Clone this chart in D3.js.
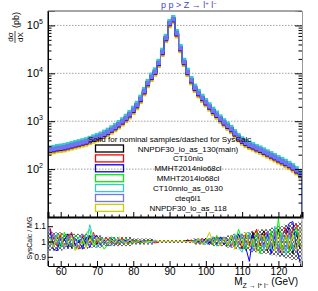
<!DOCTYPE html>
<html>
<head>
<meta charset="utf-8">
<script src="https://cdn.jsdelivr.net/npm/d3@7"></script>
<style>
  body { margin: 0; background: #fff; }
  svg { display: block; font-family: "Liberation Sans", Arial, sans-serif; }
</style>
</head>
<body>
<script>
// mass bins, 1 GeV wide, centres 57..126
const massBins = d3.range(57, 127);

const pdfNames = ['NNPDF30_lo_as_130(main)', 'CT10nlo', 'MMHT2014nlo68cl', 'MMHT2014lo68cl',
                  'CT10nnlo_as_0130', 'cteq6l1', 'NNPDF30_lo_as_118'];

// dsigma/dX (pb) per bin
const xsecNNPDF130 = [251,257,269,275,282,295,309,324,339,355, 372,398,427,457,490,537,589,661,741,851,
  977,1150,1380,1700,2140,2880,4170,6170,8320,10700, 16200,27500,53700,110000,133000,67600,33100,17000,10500,7080,
  4900,3800,3020,2450,2000,1620,1350,1120,933,794, 676,550,457,389,347,316,295,269,251,229,
  209,191,174,158,145,132,120,107,93,79];
const xsecCT10nlo = [241,247,258,264,271,283,297,311,325,341, 357,382,410,439,470,516,565,635,711,817,
  938,1100,1320,1630,2050,2760,4000,5920,7990,10300, 15600,26400,51600,106000,128000,64900,31800,16300,10100,6800,
  4700,3650,2900,2350,1920,1560,1300,1080,896,762, 649,528,439,373,333,303,283,258,241,220,
  201,183,167,152,139,127,115,103,89,76];
const xsecMMHTnlo = [246,252,264,270,276,289,303,318,332,348, 365,390,418,448,480,526,577,648,726,834,
  957,1130,1350,1670,2100,2820,4090,6050,8150,10500, 15900,27000,52600,108000,130000,66200,32400,16700,10300,6940,
  4800,3720,2960,2400,1960,1590,1320,1100,914,778, 662,539,448,381,340,310,289,264,246,224,
  205,187,171,155,142,129,118,105,91,77];
const xsecMMHTlo = [261,267,280,286,293,307,321,337,353,369, 387,414,444,475,510,558,613,687,771,885,
  1020,1200,1440,1770,2230,3000,4340,6420,8650,11100, 16800,28600,55800,114000,138000,70300,34400,17700,10900,7360,
  5100,3950,3140,2550,2080,1680,1400,1160,970,826, 703,572,475,405,361,329,307,280,261,238,
  217,199,181,164,151,137,125,111,97,82];
const xsecCT10nnlo = [281,288,301,308,316,330,346,363,380,398, 417,446,478,512,549,601,660,740,830,953,
  1090,1290,1550,1900,2400,3230,4670,6910,9320,12000, 18100,30800,60100,123000,149000,75700,37100,19000,11800,7930,
  5490,4260,3380,2740,2240,1810,1510,1250,1040,889, 757,616,512,436,389,354,330,301,281,256,
  234,214,195,177,162,148,134,120,104,88];
const xsecCteq6l1 = [254,260,272,278,285,298,312,327,342,359, 376,402,431,462,495,542,595,668,748,860,
  987,1160,1390,1720,2160,2910,4210,6230,8400,10800, 16400,27800,54200,111000,134000,68300,33400,17200,10600,7150,
  4950,3840,3050,2470,2020,1640,1360,1130,942,802, 683,556,462,393,350,319,298,272,254,231,
  211,193,176,160,146,133,121,108,94,80];
const xsecNNPDF118 = [221,226,237,242,248,260,272,285,298,312, 327,350,376,402,431,473,518,582,652,749,
  860,1010,1210,1500,1880,2530,3670,5430,7320,9420, 14300,24200,47300,96800,117000,59500,29100,15000,9240,6230,
  4310,3340,2660,2160,1760,1430,1190,986,821,699, 595,484,402,342,305,278,260,237,221,202,
  184,168,153,139,128,116,106,94,82,70];

// SysCalc / MG, deviation from 1 in percent
const ratioNNPDF130 = [3,-2,4,-3,1,5,-4,2,-1,3, -2,4,1,-2,2,-1,1,0,-2,1, 1,-1,0,1,0,-1,0,1,0,0,
  0,0,0,0,0,0,0,0,1,0, -1,1,0,2,-1,3,-2,2,1,-3, 4,-2,3,-5,5,-3,6,-4,2,7, -6,5,-3,8,-7,4,9,-8,6,-5];
const ratioCT10nlo = [9,2,-3,5,-4,2,6,-2,-5,4, 1,-3,6,-1,3,-2,2,-1,1,-2, 2,0,-1,1,-1,0,1,0,0,-1,
  0,0,0,0,0,0,0,0,0,1, 0,-1,2,-1,1,-2,3,1,-2,2, -3,4,2,-4,1,-2,3,8,-3,5, 6,-4,7,-6,3,9,-5,10,11,-3];
const ratioMMHTnlo = [8,-5,-6,3,2,-4,5,-3,1,-5, 3,-4,2,4,-2,1,-3,2,-1,1, -1,1,0,-1,1,0,-1,0,1,0,
  0,0,0,0,0,0,0,0,0,0, 1,0,-1,2,-2,1,-1,3,-2,1, 2,-3,5,-2,-4,-13,4,-6,3,-2, 5,-8,4,-3,-9,6,12,13,-4,-14];
const ratioMMHTlo = [-2,4,1,-4,6,-1,-3,4,2,-2, 5,8,-3,2,-1,-5,-2,3,1,-1, 0,2,-1,0,1,-1,0,1,0,0,
  0,0,0,0,0,0,0,0,0,0, 0,1,-1,1,2,-2,4,-1,2,-3, 3,-2,8,1,-5,4,-3,6,-8,4, -4,7,-6,15,-5,3,-7,5,9,-3];
const ratioCT10nnlo = [3,-3,5,-2,-4,3,1,-5,3,2, -3,11,2,-4,3,-2,1,-3,2,0, 1,-1,1,0,-1,1,0,-1,0,0,
  0,0,0,0,0,0,0,0,0,0, -1,2,0,-2,1,3,-3,2,-1,2, -2,5,-4,-7,2,6,-5,-4,4,-6, 3,-5,10,-4,6,-9,4,-6,7,5];
const ratioCteq6l1 = [-4,5,-2,3,-5,4,-3,2,-4,5, 2,-3,4,1,-3,2,-1,1,-2,2, -1,0,1,0,-1,1,0,0,-1,0,
  0,0,0,0,0,0,0,0,0,0, 1,-1,1,-1,2,-1,2,-2,3,-1, -4,3,-2,5,-3,4,-6,2,5,-4, 7,-3,5,-8,4,-6,8,-4,-7,9];
const ratioNNPDF118 = [2,-4,3,5,-3,-2,4,-6,-3,1, -4,2,-2,3,-1,2,-2,1,-1,3, 0,-1,1,-1,0,1,-1,0,0,1,
  0,0,0,0,0,0,0,0,0,0, -1,2,-2,1,6,-1,1,-3,2,-2, 4,-5,3,-3,6,-4,2,-7,4,3, -5,4,-6,6,-8,5,-3,4,-6,8];

// hatched band half-width (percent)
const bandHalfWidth = [6,6,6,6,5,5,5,5,5,5, 5,4,4,4,4,3,3,3,3,3, 3,3,3,2,2,2,2,2,2,1,
  1,1,1,1,1,1,1,1,1,1, 2,2,2,2,2,3,3,3,3,4, 4,5,5,5,6,6,7,7,8,8, 8,9,9,10,10,11,11,12,12,13];

const pdfColors = ['#000000', '#ff0000', '#0000ff', '#00ee00', '#33cccc', '#7474ee', '#cccc00'];
const xsecAll = [xsecNNPDF130, xsecCT10nlo, xsecMMHTnlo, xsecMMHTlo, xsecCT10nnlo, xsecCteq6l1, xsecNNPDF118];
const ratioAll = [ratioNNPDF130, ratioCT10nlo, ratioMMHTnlo, ratioMMHTlo, ratioCT10nnlo, ratioCteq6l1, ratioNNPDF118];

const series = pdfNames.map((name, i) => ({
  name, color: pdfColors[i],
  values: massBins.map((b, j) => ({ b, v: xsecAll[i][j], r: 1 + ratioAll[i][j] / 100 }))
}));
const markerOrder = [6, 3, 1, 0, 4, 2, 5];

const width = 318, height = 291;
const L = 48, R = 302, T = 11, M = 217, B = 266;

const svg = d3.select('body').append('svg')
  .attr('width', width).attr('height', height);

const x = d3.scaleLinear().domain([56.5, 126.5]).range([L, R]);
const y = d3.scaleLog().domain([10, 2e5]).range([M, T]);
const yr = d3.scaleLinear().domain([0.84, 1.16]).range([B, M]);

const defs = svg.append('defs');
defs.append('clipPath').attr('id', 'clipTop')
  .append('rect').attr('x', L).attr('y', T).attr('width', R - L).attr('height', M - T);
defs.append('clipPath').attr('id', 'clipBot')
  .append('rect').attr('x', L).attr('y', M).attr('width', R - L).attr('height', B - M);
defs.append('pattern').attr('id', 'xhatch').attr('patternUnits', 'userSpaceOnUse')
  .attr('width', 4).attr('height', 4)
  .append('path').attr('d', 'M0,0L4,4M4,0L0,4M-1,3L1,5M3,-1L5,1')
  .attr('stroke', '#000').attr('stroke-width', 0.6);

// title
const title = svg.append('text').attr('x', 161).attr('y', 8)
  .attr('font-size', 9).attr('fill', '#4a4ab8');
title.append('tspan').text('p p > Z \u2192 l');
title.append('tspan').attr('dy', -3).attr('font-size', 6).text('+');
title.append('tspan').attr('dy', 3).text(' l');
title.append('tspan').attr('dy', -3).attr('font-size', 6).text('\u2212');

// grid
svg.append('g').selectAll('line').data([1e2, 1e3, 1e4, 1e5]).join('line')
  .attr('x1', L).attr('x2', R).attr('y1', d => y(d)).attr('y2', d => y(d))
  .attr('stroke', '#888').attr('stroke-width', 0.8).attr('stroke-dasharray', '1.5,1.5');

// top panel histograms
const topG = svg.append('g').attr('clip-path', 'url(#clipTop)');
const stepLine = d3.line().x(d => x(d[0])).y(d => y(d[1]));
markerOrder.forEach(i => {
  const s = series[i];
  const pts = [];
  s.values.forEach(d => { pts.push([d.b - 0.5, d.v], [d.b + 0.5, d.v]); });
  pts.push([126.5, 10]);
  topG.append('path').attr('d', stepLine(pts))
    .attr('fill', 'none').attr('stroke', s.color).attr('stroke-width', 1);
  topG.append('g').selectAll('rect').data(s.values).join('rect')
    .attr('x', d => x(d.b) - 2.2).attr('y', d => y(d.v) - 2.2)
    .attr('width', 4.4).attr('height', 4.4).attr('fill', s.color);
});

// ratio panel
const botG = svg.append('g').attr('clip-path', 'url(#clipBot)');
botG.append('g').selectAll('rect').data(massBins).join('rect')
  .attr('x', b => x(b - 0.5)).attr('width', x(1) - x(0))
  .attr('y', (b, j) => yr(1 + bandHalfWidth[j] / 100))
  .attr('height', (b, j) => yr(1 - bandHalfWidth[j] / 100) - yr(1 + bandHalfWidth[j] / 100))
  .attr('fill', 'url(#xhatch)');
const ratioLine = d3.line().x(d => x(d.b)).y(d => yr(d.r));
series.forEach(s => {
  botG.append('path').attr('d', ratioLine(s.values))
    .attr('fill', 'none').attr('stroke', s.color).attr('stroke-width', 1);
});

// axes
const decades = [1e2, 1e3, 1e4, 1e5];
const minorLog = [];
[10, 100, 1000, 10000, 100000].forEach(p => { for (let k = 2; k <= 9; k++) if (p * k <= 2e5) minorLog.push(p * k); });

const yAxis = svg.append('g').attr('transform', `translate(${L},0)`)
  .call(d3.axisLeft(y).tickValues(decades).tickSize(-7).tickPadding(5).tickFormat(''));
yAxis.selectAll('.tick text').attr('font-size', 11).attr('fill', '#000')
  .text('10').append('tspan').attr('dy', -5).attr('font-size', 7).text(d => Math.round(Math.log10(d)));
svg.append('g').attr('transform', `translate(${L},0)`)
  .call(d3.axisLeft(y).tickValues(minorLog).tickSize(-3.5).tickFormat(''))
  .select('.domain').remove();
svg.append('g').attr('transform', `translate(${R},0)`)
  .call(d3.axisRight(y).tickValues(decades).tickSize(-7).tickFormat(''))
  .select('.domain').attr('stroke', '#999');
svg.append('g').attr('transform', `translate(${R},0)`)
  .call(d3.axisRight(y).tickValues(minorLog).tickSize(-3.5).tickFormat(''))
  .select('.domain').remove();

const xMajor = d3.range(60, 121, 10);
const xMinor = d3.range(58, 127, 2).filter(v => v % 10 !== 0);
[M, B].forEach(pos => {
  svg.append('g').attr('transform', `translate(0,${pos})`)
    .call(d3.axisBottom(x).tickValues(xMinor).tickSize(-2.5).tickFormat(''))
    .select('.domain').remove();
});
svg.append('g').attr('transform', `translate(0,${M})`)
  .call(d3.axisBottom(x).tickValues(xMajor).tickSize(-5).tickFormat(''))
  .select('.domain').attr('stroke-width', 2);
const xAxis = svg.append('g').attr('transform', `translate(0,${B})`)
  .call(d3.axisBottom(x).tickValues(xMajor).tickSize(-5).tickPadding(2));
xAxis.selectAll('text').attr('font-size', 10).attr('fill', '#000');

const yrAxis = svg.append('g').attr('transform', `translate(${L},0)`)
  .call(d3.axisLeft(yr).tickValues([0.9, 1, 1.1]).tickSize(-5).tickPadding(2)
    .tickFormat(d => d === 1 ? '1' : d3.format('.1f')(d)));
yrAxis.select('.domain').attr('d', `M0,${M}V${B}`);
yrAxis.selectAll('text').attr('font-size', 8.5).attr('fill', '#000');
svg.append('line').attr('x1', R).attr('x2', R).attr('y1', M).attr('y2', B).attr('stroke', '#999');

// frame top
svg.append('line').attr('x1', L).attr('x2', R).attr('y1', T).attr('y2', T)
  .attr('stroke', '#888').attr('stroke-width', 1.5);
svg.append('line').attr('x1', L).attr('x2', L).attr('y1', T).attr('y2', M).attr('stroke', '#000');

// axis titles
const yt = svg.append('g').attr('transform', 'translate(15,43) rotate(-90)');
yt.append('text').attr('x', 6).attr('y', -2).attr('text-anchor', 'middle').attr('font-size', 8).text('d\u03c3');
yt.append('line').attr('x1', 0).attr('x2', 12).attr('y1', 0).attr('y2', 0).attr('stroke', '#000').attr('stroke-width', 0.7);
yt.append('text').attr('x', 6).attr('y', 8).attr('text-anchor', 'middle').attr('font-size', 8).text('dX');
yt.append('text').attr('x', 15).attr('y', 4).attr('font-size', 9).text('(pb)');

svg.append('text').attr('transform', 'translate(32,238) rotate(-90)')
  .attr('text-anchor', 'middle').attr('font-size', 7).text('SysCalc / MG');

const xt = svg.append('text').attr('x', 298).attr('y', 285).attr('text-anchor', 'end').attr('font-size', 10);
xt.append('tspan').text('M');
xt.append('tspan').attr('dy', 3).attr('font-size', 7).text('Z \u2192 l');
xt.append('tspan').attr('dy', -2).attr('font-size', 5).text('+');
xt.append('tspan').attr('dy', 2).attr('font-size', 7).text(' l');
xt.append('tspan').attr('dy', -2).attr('font-size', 5).text('\u2212');
xt.append('tspan').attr('dy', -1).text(' (GeV)');

// legend
const leg = svg.append('g');
leg.append('text').attr('x', 88).attr('y', 142).attr('font-size', 8)
  .text('Solid for nominal samples/dashed for SysCalc');
series.forEach((s, i) => {
  const cy = 148.5 + i * 9.9;
  leg.append('rect').attr('x', 95.5).attr('y', cy - 3.5).attr('width', 28).attr('height', 7)
    .attr('fill', 'none').attr('stroke', s.color).attr('stroke-width', 1.3);
  leg.append('text').attr('x', 188).attr('y', cy + 3).attr('text-anchor', 'middle')
    .attr('font-size', 8).text(s.name);
});
</script>
</body>
</html>
